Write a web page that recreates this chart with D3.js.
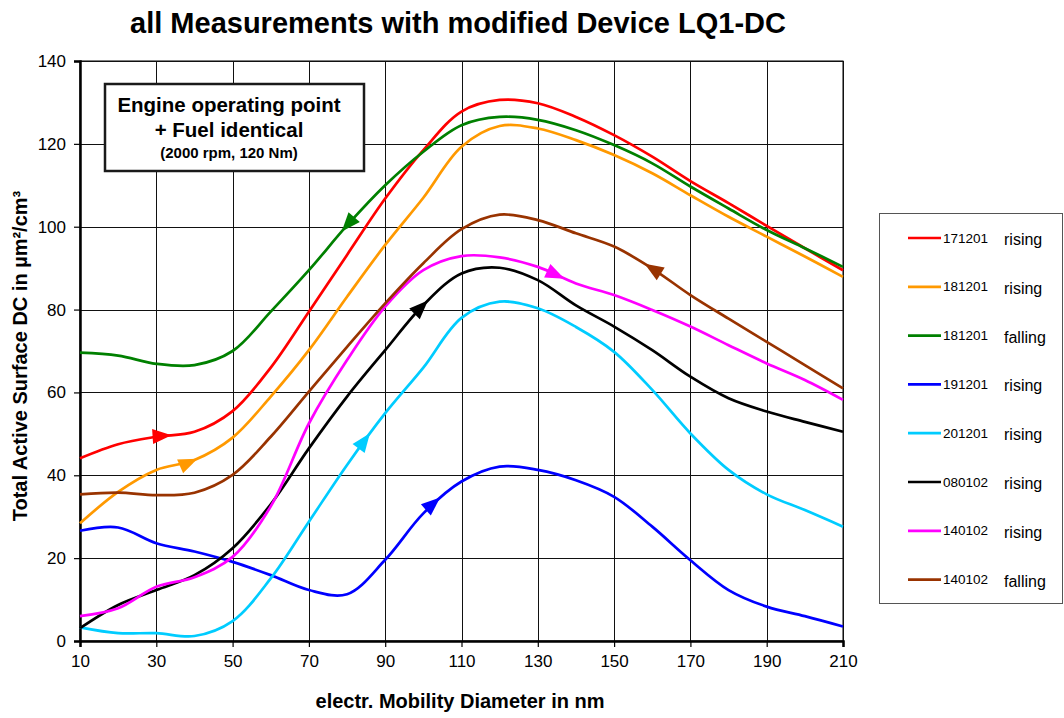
<!DOCTYPE html>
<html>
<head>
<meta charset="utf-8">
<script src="https://cdn.jsdelivr.net/npm/d3@7"></script>
<style>
  body { margin: 0; background: #fff; }
  svg { display: block; }
  text { font-family: Arial, "Liberation Sans", sans-serif; fill: #000; }
</style>
</head>
<body>
<svg id="chart" width="1064" height="718"></svg>
<script>
// Mobility diameter (nm) at which each scan is sampled
const diameters = [10, 20, 30, 40, 50, 60, 70, 80, 90, 100, 110, 120, 130, 140, 150, 160, 170, 180, 190, 200, 210];

// Total active surface (µm²/cm³) per scan
const scan171201Rising  = [44.1, 47.5, 49.3, 50.5, 55.5, 66.0, 79.5, 93.2, 106.8, 118.5, 127.8, 130.6, 129.8, 126.5, 122.1, 116.9, 111.0, 105.7, 100.2, 94.8, 89.5];
const scan181201Rising  = [28.4, 36.0, 41.3, 43.7, 49.1, 59.0, 70.2, 83.1, 95.6, 107.0, 119.3, 124.3, 123.7, 120.9, 117.3, 112.9, 107.6, 102.4, 97.6, 92.8, 87.9];
const scan181201Falling = [69.6, 68.9, 66.9, 66.6, 70.0, 79.5, 89.5, 100.3, 110.0, 118.1, 124.5, 126.5, 125.8, 123.3, 119.7, 115.3, 109.7, 104.4, 99.2, 94.8, 90.3];
const scan191201Rising  = [26.6, 27.4, 23.6, 21.6, 19.1, 15.9, 12.3, 11.3, 19.6, 30.8, 38.5, 42.1, 41.3, 38.8, 34.8, 27.6, 19.5, 12.3, 8.3, 6.0, 3.5];
const scan201201Rising  = [3.3, 1.9, 1.9, 1.2, 4.8, 15.1, 28.8, 42.5, 55.0, 66.0, 78.0, 81.9, 80.3, 75.8, 69.8, 60.6, 50.1, 41.3, 35.4, 31.6, 27.6];
const scan080102Rising  = [3.1, 8.7, 12.3, 15.9, 22.4, 33.0, 46.5, 59.0, 70.2, 81.1, 88.7, 90.1, 87.1, 81.0, 75.9, 70.2, 63.8, 58.6, 55.4, 52.9, 50.5];
const scan140102Rising  = [6.0, 7.9, 13.1, 15.4, 20.3, 32.5, 52.5, 67.8, 80.7, 89.5, 92.9, 92.6, 90.3, 86.3, 83.5, 79.9, 75.9, 71.4, 67.0, 63.0, 58.2];
const scan140102Falling = [35.4, 35.8, 35.2, 35.8, 40.1, 49.3, 60.2, 71.0, 81.5, 91.2, 99.4, 102.9, 101.6, 98.4, 95.2, 89.9, 83.5, 77.8, 72.2, 66.6, 61.0];

const scanDates  = ["171201", "181201", "181201", "191201", "201201", "080102", "140102", "140102"];
const scanModes  = ["rising", "rising", "falling", "rising", "rising", "rising", "rising", "falling"];
const scanValues = [scan171201Rising, scan181201Rising, scan181201Falling, scan191201Rising,
                    scan201201Rising, scan080102Rising, scan140102Rising, scan140102Falling];
const scanColors = ["#ff0000", "#ff9900", "#008000", "#0000ff", "#00ccff", "#000000", "#ff00ff", "#993300"];

// Direction markers: diameter of the arrow tip, and sweep direction (+1 up, -1 down)
const arrowDiameters = [34, 40.8, 78.6, 104.4, 86, 101.2, 137, 158];
const arrowHeading   = [1, 1, -1, 1, 1, 1, 1, -1];

const xTicks = [10, 30, 50, 70, 90, 110, 130, 150, 170, 190, 210];
const yTicks = [0, 20, 40, 60, 80, 100, 120, 140];

const titleText = "all Measurements with modified Device LQ1-DC";
const xTitle = "electr. Mobility Diameter in nm";
const yTitle = "Total Active Surface DC in µm²/cm³";
const noteLines = ["Engine operating point", "+ Fuel identical", "(2000 rpm, 120 Nm)"];

const svg = d3.select("#chart");
const plot = { left: 80, right: 843, top: 61, bottom: 641 };

const x = d3.scaleLinear().domain([10, 210]).range([plot.left, plot.right]);
const y = d3.scaleLinear().domain([0, 140]).range([plot.bottom, plot.top]);

// plot background
svg.append("rect")
  .attr("x", plot.left).attr("y", plot.top)
  .attr("width", plot.right - plot.left).attr("height", plot.bottom - plot.top)
  .attr("fill", "#fff").attr("stroke", "#000").attr("stroke-width", 1);

// grid
const grid = svg.append("g").attr("stroke", "#111").attr("stroke-width", 1).attr("shape-rendering", "crispEdges");
grid.selectAll("line.v").data(xTicks.slice(1)).join("line")
  .attr("x1", d => Math.round(x(d)) + 0.5).attr("x2", d => Math.round(x(d)) + 0.5)
  .attr("y1", plot.top).attr("y2", plot.bottom);
grid.selectAll("line.h").data(yTicks.slice(1)).join("line")
  .attr("y1", d => Math.round(y(d)) + 0.5).attr("y2", d => Math.round(y(d)) + 0.5)
  .attr("x1", plot.left).attr("x2", plot.right);

// axes
const xAxis = svg.append("g").attr("transform", `translate(0,${plot.bottom})`)
  .call(d3.axisBottom(x).tickValues(xTicks).tickSize(6).tickPadding(8));
const yAxis = svg.append("g").attr("transform", `translate(${plot.left},0)`)
  .call(d3.axisLeft(y).tickValues(yTicks).tickSize(6).tickPadding(8));
[xAxis, yAxis].forEach(a => {
  a.select(".domain").attr("stroke", "#000").attr("stroke-width", 2.5);
  a.selectAll(".tick line").attr("stroke", "#000").attr("stroke-width", 1.2);
  a.selectAll(".tick text").attr("font-size", 17).attr("font-family", "Arial, 'Liberation Sans', sans-serif").attr("fill", "#000");
});

// curves
const line = d3.line()
  .x(d => x(d[0])).y(d => y(d[1]))
  .curve(d3.curveCatmullRom.alpha(0.5));

const curves = svg.append("g");
scanValues.forEach((vals, i) => {
  const pts = diameters.map((dm, k) => [dm, vals[k]]);
  const path = curves.append("path")
    .attr("d", line(pts))
    .attr("fill", "none")
    .attr("stroke", scanColors[i])
    .attr("stroke-width", 2.7)
    .attr("stroke-linejoin", "round");

  // locate the arrow tip on the drawn curve
  const node = path.node();
  const total = node.getTotalLength();
  const targetX = x(arrowDiameters[i]);
  let lo = 0, hi = total;
  for (let it = 0; it < 40; it++) {
    const mid = (lo + hi) / 2;
    if (node.getPointAtLength(mid).x < targetX) lo = mid; else hi = mid;
  }
  const L = (lo + hi) / 2;
  const tip = node.getPointAtLength(L);
  const a = node.getPointAtLength(Math.max(0, L - 3));
  const b = node.getPointAtLength(Math.min(total, L + 3));
  let ang = Math.atan2(b.y - a.y, b.x - a.x) * 180 / Math.PI;
  if (arrowHeading[i] < 0) ang += 180;
  curves.append("path")
    .attr("d", "M0,0 L-19,-7.5 L-19,7.5 Z")
    .attr("fill", scanColors[i])
    .attr("transform", `translate(${tip.x},${tip.y}) rotate(${ang})`);
});

// note box
const note = svg.append("g");
note.append("rect")
  .attr("x", 105).attr("y", 84).attr("width", 259).attr("height", 87)
  .attr("fill", "#fff").attr("stroke", "#1a1a1a").attr("stroke-width", 2.5);
note.append("text").attr("x", 229).attr("y", 112).attr("text-anchor", "middle")
  .attr("font-size", 20.5).attr("font-weight", "bold").text(noteLines[0]);
note.append("text").attr("x", 229).attr("y", 137).attr("text-anchor", "middle")
  .attr("font-size", 20.5).attr("font-weight", "bold").text(noteLines[1]);
note.append("text").attr("x", 229).attr("y", 158).attr("text-anchor", "middle")
  .attr("font-size", 15).attr("font-weight", "bold").text(noteLines[2]);

// legend
const legend = svg.append("g");
legend.append("rect")
  .attr("x", 879.5).attr("y", 213.5).attr("width", 183).attr("height", 390)
  .attr("fill", "#fff").attr("stroke", "#555").attr("stroke-width", 1);
scanDates.forEach((dt, i) => {
  const cy = 238 + i * 48.8;
  legend.append("line")
    .attr("x1", 908).attr("x2", 941).attr("y1", cy).attr("y2", cy)
    .attr("stroke", scanColors[i]).attr("stroke-width", 2.7);
  legend.append("text").attr("x", 943).attr("y", cy + 4.5)
    .attr("font-size", 13.5).text(dt);
  legend.append("text").attr("x", 1004).attr("y", cy + 7)
    .attr("font-size", 16).text(scanModes[i]);
});

// titles
svg.append("text").attr("x", 458).attr("y", 33).attr("text-anchor", "middle")
  .attr("font-size", 29).attr("font-weight", "bold").text(titleText);
svg.append("text").attr("x", 460).attr("y", 708).attr("text-anchor", "middle")
  .attr("font-size", 20).attr("font-weight", "bold").text(xTitle);
svg.append("text")
  .attr("transform", "translate(27,356) rotate(-90)")
  .attr("text-anchor", "middle")
  .attr("font-size", 20).attr("font-weight", "bold").text(yTitle);
</script>
</body>
</html>
